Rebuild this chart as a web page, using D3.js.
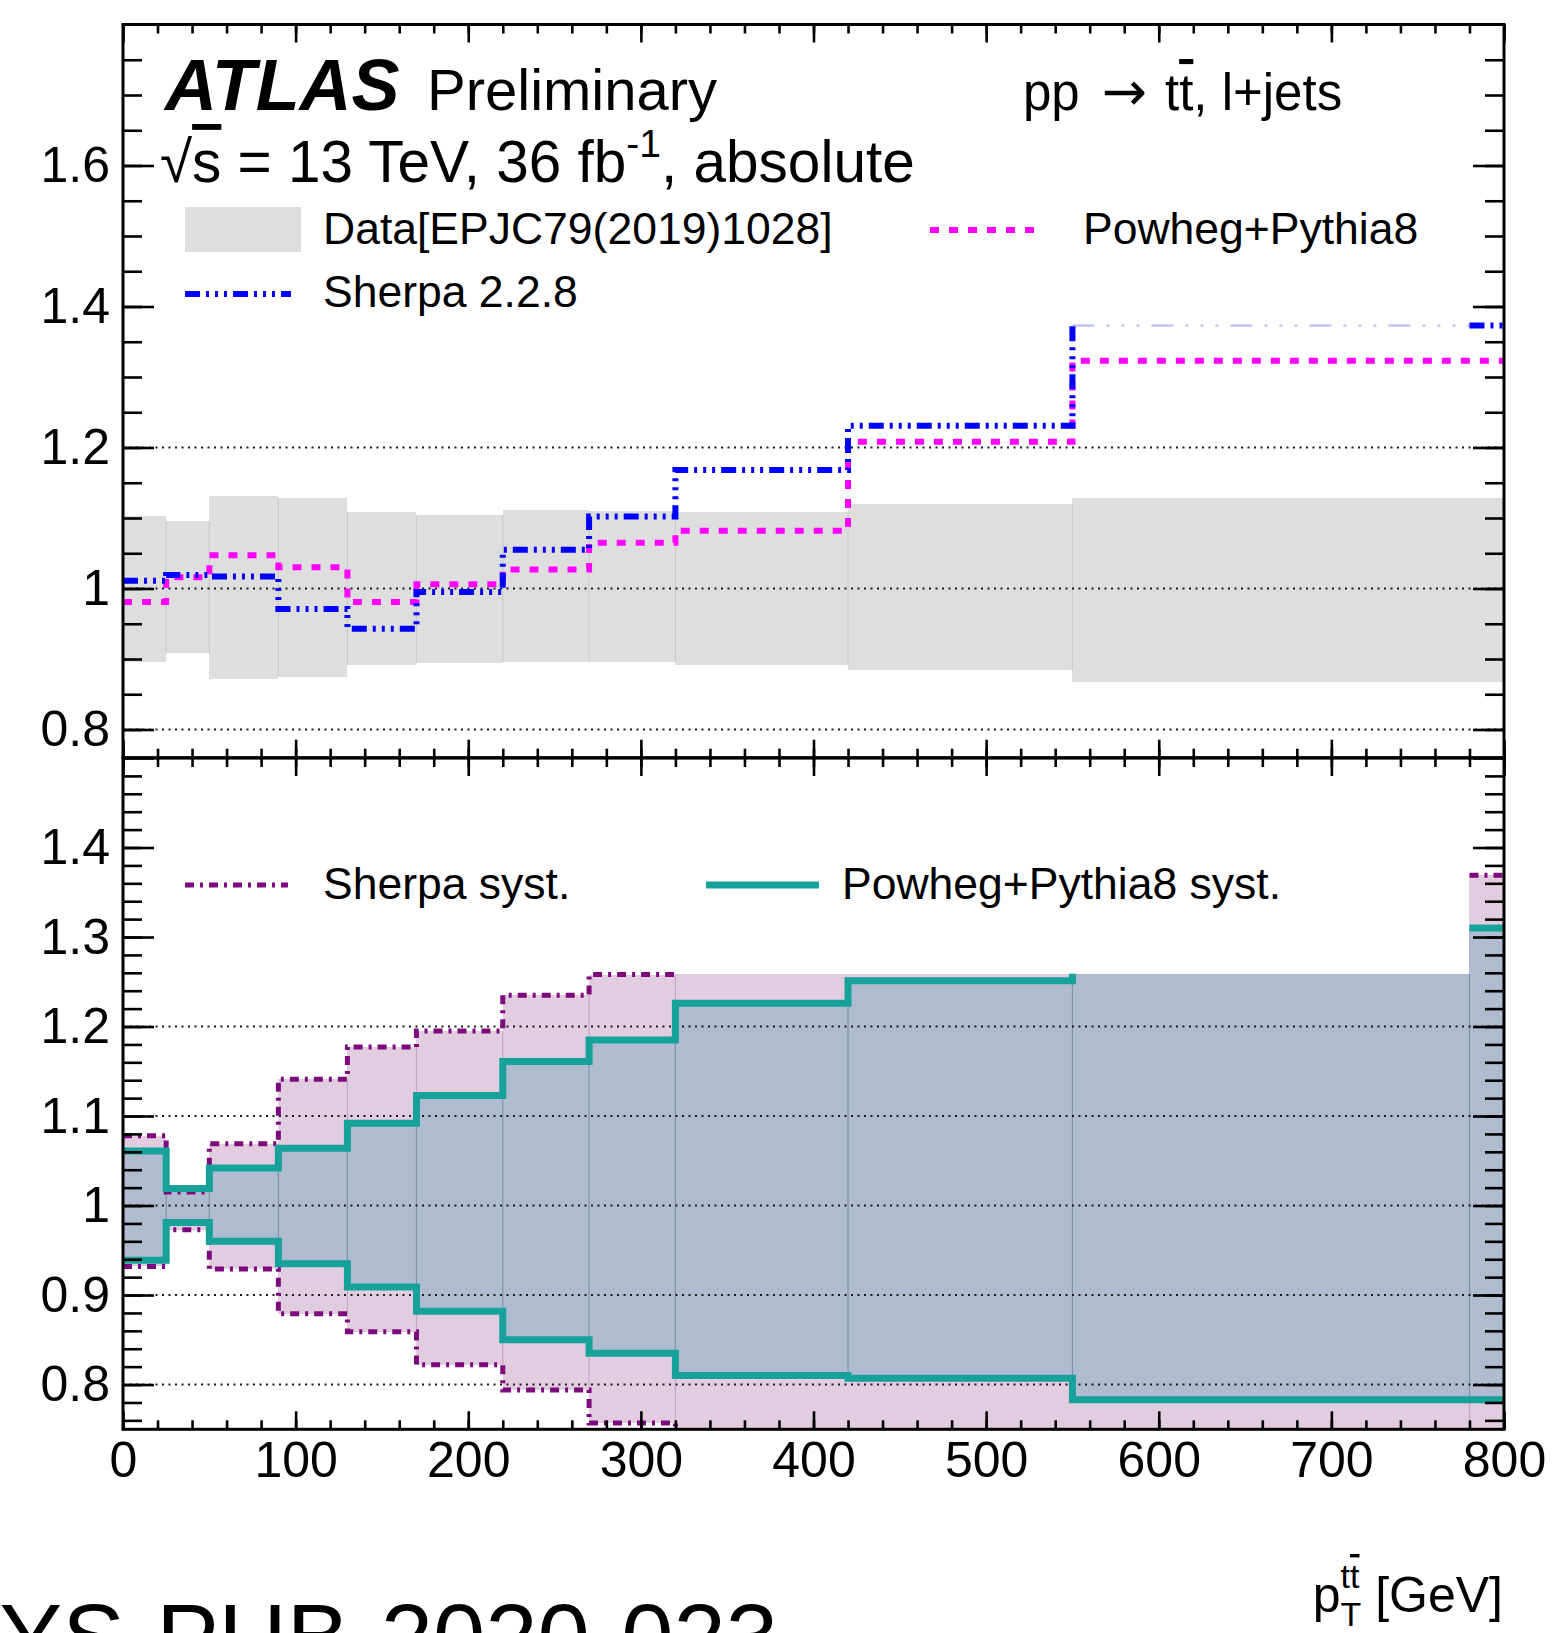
<!DOCTYPE html>
<html>
<head>
<meta charset="utf-8">
<script src="https://cdn.jsdelivr.net/npm/d3@7"></script>
<style>
  html, body { margin: 0; padding: 0; background: #fff; }
  svg { display: block; }
  text { font-family: "Liberation Sans", Arial, Helvetica, sans-serif; fill: #000; }
</style>
</head>
<body>
<svg id="chart" width="1552" height="1633"></svg>
<script>
// ---- data -----------------------------------------------------------------
// p_T(ttbar) bin edges [GeV]
const binEdges = [0, 25, 50, 90, 130, 170, 220, 270, 320, 420, 550, 780, 800];

// upper pad: absolute cross-section ratio to data
const dataUp      = [1.103, 1.096, 1.131, 1.128, 1.108, 1.104, 1.111, 1.110, 1.108, 1.120, 1.128, 1.128];
const dataDown    = [0.896, 0.908, 0.871, 0.875, 0.891, 0.894, 0.896, 0.896, 0.891, 0.884, 0.868, 0.868];
const powhegRatio = [0.981, 1.016, 1.047, 1.030, 0.981, 1.006, 1.027, 1.065, 1.082, 1.208, 1.323, 1.323];
const sherpaRatio = [1.011, 1.019, 1.017, 0.971, 0.943, 0.995, 1.055, 1.102, 1.168, 1.231, 1.373, 1.373];

// lower pad: systematic envelopes
const sherpaSystUp     = [1.078, 1.015, 1.069, 1.141, 1.177, 1.195, 1.235, 1.258, 1.259, 1.259, 1.259, 1.369];
const sherpaSystDown   = [0.932, 0.973, 0.929, 0.879, 0.859, 0.822, 0.794, 0.757, 0.720, 0.720, 0.720, 0.720];
const powhegSystUp     = [1.061, 1.019, 1.042, 1.064, 1.092, 1.123, 1.161, 1.185, 1.226, 1.251, 1.259, 1.310];
const powhegSystDown   = [0.939, 0.981, 0.960, 0.935, 0.909, 0.882, 0.850, 0.835, 0.810, 0.807, 0.783, 0.783];

// tick values and labels
const xTicksMajor = [0, 100, 200, 300, 400, 500, 600, 700, 800];
const xTicksMinor = d3.range(0, 801, 20);
const yUpperMajor = [0.8, 1.0, 1.2, 1.4, 1.6];
const yUpperMinor = d3.range(0.8, 1.76, 0.05);
const yLowerMajor = [0.8, 0.9, 1.0, 1.1, 1.2, 1.3, 1.4, 1.5];
const yLowerMinor = d3.range(0.76, 1.49, 0.02);
const yUpperGrid  = [0.8, 1.0, 1.2];
const yLowerGrid  = [0.8, 0.9, 1.0, 1.1, 1.2];

// ---- layout ---------------------------------------------------------------
const X0 = 123, X1 = 1504;
const UP_TOP = 24.5, UP_BOT = 757.7, LO_TOP = 758, LO_BOT = 1429.3;

const x  = d3.scaleLinear().domain([0, 800]).range([X0, X1]);
const yU = d3.scaleLinear().domain([0.76, 1.8]).range([UP_BOT, UP_TOP]);
const yL = d3.scaleLinear().domain([0.75, 1.5]).range([LO_BOT, LO_TOP]);

const svg = d3.select("#chart");
const defs = svg.append("defs");
defs.append("clipPath").attr("id", "clipUp").append("rect")
  .attr("x", X0).attr("y", UP_TOP).attr("width", X1 - X0).attr("height", UP_BOT - UP_TOP);
defs.append("clipPath").attr("id", "clipLo").append("rect")
  .attr("x", X0).attr("y", LO_TOP).attr("width", X1 - X0).attr("height", LO_BOT - LO_TOP);

const C = {
  grey: "#dedede", greySeam: "#cbcbcb",
  magenta: "#ff00ff", blue: "#0000ff", blueFaint: "#b8b8ff",
  purple: "#7d0a7d", teal: "#16a19b",
  pink: "#e2cce0", pinkSeam: "#c9a6c6",
  slate: "#afbccf", slateSeam: "#7d93ad",
  grid: "#1a1a1a"
};

// step-histogram outline split into visible runs
function stepRuns(values, hidden) {
  const runs = [];
  let cur = null;
  values.forEach((v, i) => {
    if (v == null || (hidden && hidden.has(i))) {
      if (cur && v != null) cur.push([binEdges[i], v]);   // riser into the hidden bin
      cur = null;
      return;
    }
    if (!cur) { cur = [[binEdges[i], v]]; runs.push(cur); }
    else cur.push([binEdges[i], v]);
    cur.push([binEdges[i + 1], v]);
  });
  return runs;
}
function drawSteps(g, y, values, hidden, style) {
  const line = d3.line().x(d => x(d[0])).y(d => y(d[1]));
  stepRuns(values, hidden).forEach(run => {
    g.append("path").attr("d", line(run)).attr("fill", "none")
      .attr("stroke", style.stroke).attr("stroke-width", style.width)
      .attr("stroke-dasharray", style.dash || null)
      .attr("stroke-linecap", "butt").attr("stroke-linejoin", "miter");
  });
}
function drawBand(g, y, lo, hi, fill, seam) {
  const bins = d3.range(binEdges.length - 1);
  g.append("g").selectAll("rect").data(bins).join("rect")
    .attr("x", i => x(binEdges[i]))
    .attr("width", i => x(binEdges[i + 1]) - x(binEdges[i]))
    .attr("y", i => y(hi[i]))
    .attr("height", i => y(lo[i]) - y(hi[i]))
    .attr("fill", fill).attr("shape-rendering", "crispEdges");
  // thin seams at interior bin edges
  const inner = d3.range(1, binEdges.length - 1)
    .filter(i => !(hi[i] === hi[i - 1] && lo[i] === lo[i - 1]));
  g.append("g").selectAll("line").data(inner).join("line")
    .attr("x1", i => x(binEdges[i])).attr("x2", i => x(binEdges[i]))
    .attr("y1", i => y(Math.min(hi[i], hi[i - 1])))
    .attr("y2", i => y(Math.max(lo[i], lo[i - 1])))
    .attr("stroke", seam).attr("stroke-width", 1.2);
}
function drawGrid(g, y, vals) {
  g.append("g").selectAll("line").data(vals).join("line")
    .attr("x1", X0).attr("x2", X1)
    .attr("y1", d => y(d)).attr("y2", d => y(d))
    .attr("stroke", C.grid).attr("stroke-width", 2).attr("stroke-dasharray", "2 4.5");
}

// ---- upper pad ------------------------------------------------------------
const up = svg.append("g").attr("clip-path", "url(#clipUp)");
drawBand(up, yU, dataDown, dataUp, C.grey, C.greySeam);
drawGrid(up, yU, yUpperGrid);
drawSteps(up, yU, powhegRatio, null, { stroke: C.magenta, width: 6, dash: "9 10" });
// last Sherpa bin is rendered faint
drawSteps(up, yU, sherpaRatio.map((v, i) => (binEdges[i] === 550 ? v : null)), null,
  { stroke: C.blueFaint, width: 2, dash: "22 12 3 12 3 12 3 12" });
drawSteps(up, yU, sherpaRatio, new Set([10]),
  { stroke: C.blue, width: 6, dash: "15 6 3 6 3 6 3 6" });

// ---- lower pad ------------------------------------------------------------
const lo = svg.append("g").attr("clip-path", "url(#clipLo)");
drawBand(lo, yL, sherpaSystDown, sherpaSystUp, C.pink, C.pinkSeam);
drawBand(lo, yL, powhegSystDown, powhegSystUp, C.slate, C.slateSeam);
drawGrid(lo, yL, yLowerGrid);
drawSteps(lo, yL, sherpaSystUp, new Set([8, 9, 10]), { stroke: C.purple, width: 5, dash: "9 6 3 6" });
drawSteps(lo, yL, sherpaSystDown, null, { stroke: C.purple, width: 5, dash: "9 6 3 6" });
drawSteps(lo, yL, powhegSystUp, new Set([10]), { stroke: C.teal, width: 7 });
drawSteps(lo, yL, powhegSystDown, null, { stroke: C.teal, width: 7 });

// ---- axes -----------------------------------------------------------------
function styleAxis(g, fs) {
  g.select(".domain").remove();
  g.selectAll(".tick line").attr("stroke", "#000").attr("stroke-width", 2.6);
  g.selectAll(".tick text").attr("fill", "#000")
    .style("font-size", fs + "px").style("font-family", '"Liberation Sans", Arial, sans-serif');
}
const fmtUp = d => (Math.abs(d - 1) < 1e-9 ? "1" : d3.format(".1f")(d));
const fmtLo = d => (d > 1.45 ? "" : fmtUp(d));

function yTicks(y, majors, minors, fmt) {
  const gl = svg.append("g").attr("transform", `translate(${X0},0)`);
  gl.append("g").call(d3.axisLeft(y).tickValues(minors).tickSize(-19).tickFormat(""));
  gl.append("g").call(d3.axisLeft(y).tickValues(majors).tickSize(-31).tickPadding(13).tickFormat(fmt));
  gl.selectAll("g").each(function () { styleAxis(d3.select(this), 50); });
  const gr = svg.append("g").attr("transform", `translate(${X1},0)`);
  gr.append("g").call(d3.axisRight(y).tickValues(minors).tickSize(-19).tickFormat(""));
  gr.append("g").call(d3.axisRight(y).tickValues(majors).tickSize(-31).tickFormat(""));
  gr.selectAll("g").each(function () { styleAxis(d3.select(this), 50); });
}
yTicks(yU, yUpperMajor, yUpperMinor, fmtUp);
yTicks(yL, yLowerMajor, yLowerMinor, fmtLo);

function xTicks(yPos, dir, withLabels) {
  const mk = dir === "down" ? d3.axisTop : d3.axisBottom;
  const g = svg.append("g").attr("transform", `translate(0,${yPos})`);
  g.append("g").call(mk(x).tickValues(xTicksMinor).tickSize(-9).tickFormat(""));
  g.append("g").call(mk(x).tickValues(xTicksMajor).tickSize(-18).tickPadding(12)
    .tickFormat(withLabels ? d3.format("d") : ""));
  g.selectAll("g").each(function () { styleAxis(d3.select(this), 50); });
}
xTicks(UP_TOP, "down", false);
xTicks(UP_BOT, "up", false);
xTicks(LO_TOP, "down", false);
xTicks(LO_BOT, "up", true);

// frames
[[UP_TOP, UP_BOT], [LO_TOP, LO_BOT]].forEach(([t, b]) => {
  svg.append("rect").attr("x", X0).attr("y", t).attr("width", X1 - X0).attr("height", b - t)
    .attr("fill", "none").attr("stroke", "#000").attr("stroke-width", 3);
});

// ---- labels ---------------------------------------------------------------
svg.append("text").attr("x", 165).attr("y", 110)
  .style("font-size", "72px").style("font-weight", "bold").style("font-style", "italic").text("ATLAS");
svg.append("text").attr("x", 427).attr("y", 110).style("font-size", "58px").text("Preliminary");

const lumi = svg.append("text").attr("x", 160).attr("y", 182).style("font-size", "58.5px");
lumi.append("tspan").text("√");
lumi.append("tspan").text("s").style("text-decoration", "overline");
lumi.append("tspan").text(" = 13 TeV, 36 fb");
lumi.append("tspan").attr("dy", -25).style("font-size", "39px").text("-1");
lumi.append("tspan").attr("dy", 25).text(", absolute");

const proc = svg.append("text").attr("x", 1023).attr("y", 110).style("font-size", "51px");
proc.append("tspan").text("pp");
proc.append("tspan").attr("dx", 22).style("font-family", '"DejaVu Sans", sans-serif').style("font-size", "54px").text("→");
proc.append("tspan").attr("dx", 18).text("t");
proc.append("tspan").text("t").style("text-decoration", "overline");
proc.append("tspan").text(", l+jets");

// legends
svg.append("rect").attr("x", 185).attr("y", 207).attr("width", 116).attr("height", 45).attr("fill", C.grey);
svg.append("text").attr("x", 323).attr("y", 244).style("font-size", "44.5px").text("Data[EPJC79(2019)1028]");
svg.append("line").attr("x1", 930).attr("x2", 1039).attr("y1", 230).attr("y2", 230)
  .attr("stroke", C.magenta).attr("stroke-width", 6).attr("stroke-dasharray", "9 10");
svg.append("text").attr("x", 1083).attr("y", 244).style("font-size", "44.5px").text("Powheg+Pythia8");
svg.append("line").attr("x1", 185).attr("x2", 291).attr("y1", 294).attr("y2", 294)
  .attr("stroke", C.blue).attr("stroke-width", 6).attr("stroke-dasharray", "15 6 3 6 3 6 3 6");
svg.append("text").attr("x", 323).attr("y", 307).style("font-size", "44.5px").text("Sherpa 2.2.8");

svg.append("line").attr("x1", 185).attr("x2", 288).attr("y1", 885).attr("y2", 885)
  .attr("stroke", C.purple).attr("stroke-width", 5).attr("stroke-dasharray", "9 6 3 6");
svg.append("text").attr("x", 323).attr("y", 899).style("font-size", "44.5px").text("Sherpa syst.");
svg.append("line").attr("x1", 706).attr("x2", 819).attr("y1", 885).attr("y2", 885)
  .attr("stroke", C.teal).attr("stroke-width", 7);
svg.append("text").attr("x", 842).attr("y", 899).style("font-size", "44.5px").text("Powheg+Pythia8 syst.");

// x-axis title
const xt = svg.append("text").attr("x", 1503).attr("y", 1612).attr("text-anchor", "end").style("font-size", "50px");
xt.append("tspan").text("p");
xt.append("tspan").attr("dy", -24).style("font-size", "34px").text("t");
xt.append("tspan").style("font-size", "34px").style("text-decoration", "overline").text("t");
xt.append("tspan").attr("dx", -19).attr("dy", 38).style("font-size", "34px").text("T");
xt.append("tspan").attr("dy", -14).text(" [GeV]");

// note number along the bottom edge
svg.append("text").attr("x", 778).attr("y", 1670).attr("text-anchor", "end")
  .style("font-size", "94px").text("ATL-PHYS-PUB-2020-023");
</script>
</body>
</html>
